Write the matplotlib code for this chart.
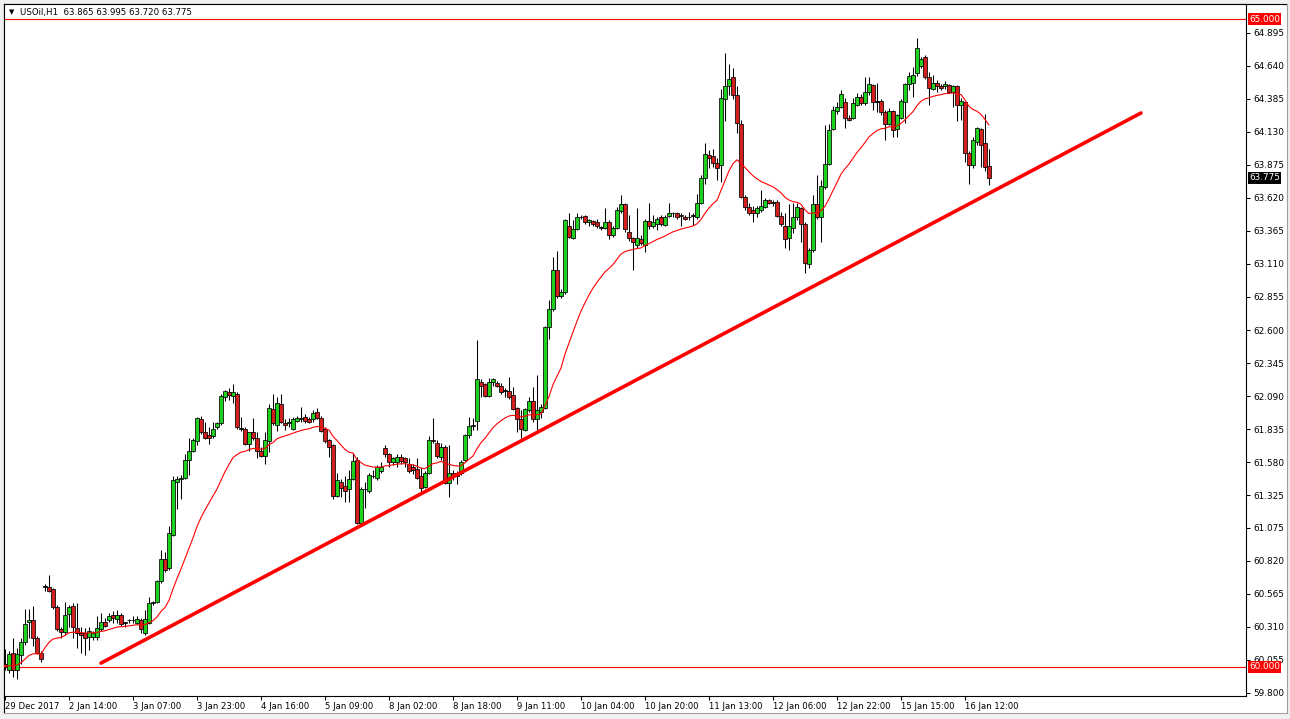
import matplotlib
matplotlib.use("Agg")
import matplotlib.pyplot as plt
from matplotlib.lines import Line2D
from matplotlib.patches import Rectangle
import matplotlib.transforms as mtransforms
import pandas as pd

# USOil H1 bars (prices)
opens = [
    60.02, 59.98, 60.11, 59.98, 60.09, 60.19, 60.35, 60.36, 60.22, 60.11,
    60.62, 60.62, 60.60, 60.46, 60.29, 60.27, 60.41, 60.47, 60.30, 60.26,
    60.26, 60.23, 60.23, 60.23, 60.29, 60.35, 60.36, 60.40, 60.37, 60.40,
    60.34, 60.36, 60.36, 60.34, 60.36, 60.26, 60.34, 60.49, 60.50, 60.66,
    60.83, 60.76, 61.02, 61.43, 61.45, 61.46, 61.60, 61.67, 61.74, 61.91,
    61.81, 61.79, 61.78, 61.85, 61.88, 62.08, 62.12, 62.09, 62.11, 61.84,
    61.84, 61.72, 61.81, 61.77, 61.67, 61.63, 61.74, 61.99, 61.87, 62.03,
    61.88, 61.88, 61.84, 61.90, 61.91, 61.93, 61.91, 61.91, 61.97, 61.92,
    61.84, 61.75, 61.71, 61.32, 61.43, 61.40, 61.37, 61.45, 61.60, 61.11,
    61.37, 61.36, 61.47, 61.46, 61.51, 61.69, 61.64, 61.58, 61.58, 61.62,
    61.61, 61.57, 61.54, 61.53, 61.47, 61.39, 61.50, 61.75, 61.73, 61.62,
    61.70, 61.42, 61.50, 61.47, 61.50, 61.60, 61.79, 61.86, 61.90, 62.20,
    62.18, 62.09, 62.20, 62.19, 62.17, 62.13, 62.13, 62.10, 62.00, 61.91,
    61.83, 61.98, 62.05, 61.91, 61.97, 62.00, 62.62, 62.76, 63.06, 62.86,
    62.89, 63.40, 63.31, 63.38, 63.47, 63.48, 63.43, 63.44, 63.43, 63.39,
    63.39, 63.43, 63.33, 63.39, 63.52, 63.57, 63.36, 63.31, 63.26, 63.30,
    63.26, 63.44, 63.40, 63.42, 63.47, 63.41, 63.48, 63.50, 63.50, 63.49,
    63.47, 63.47, 63.48, 63.47, 63.58, 63.77, 63.95, 63.94, 63.89, 63.87,
    64.38, 64.48, 64.55, 64.41, 64.19, 63.63, 63.55, 63.53, 63.50, 63.53,
    63.55, 63.60, 63.59, 63.59, 63.48, 63.40, 63.31, 63.39, 63.47, 63.54,
    63.42, 63.11, 63.22, 63.57, 63.47, 63.70, 63.88, 64.15, 64.29, 64.32,
    64.36, 64.24, 64.24, 64.34, 64.40, 64.35, 64.44, 64.49, 64.36, 64.37,
    64.28, 64.19, 64.29, 64.15, 64.24, 64.36, 64.50, 64.51, 64.58, 64.64,
    64.71, 64.55, 64.46, 64.51, 64.48, 64.48, 64.49, 64.44, 64.48, 64.34,
    64.36, 63.97, 63.87, 64.05, 64.15, 64.04, 63.865,
]
highs = [
    60.14, 60.12, 60.22, 60.15, 60.22, 60.45, 60.45, 60.47, 60.24, 60.12,
    60.64, 60.71, 60.61, 60.48, 60.31, 60.50, 60.48, 60.49, 60.49, 60.31,
    60.30, 60.31, 60.28, 60.39, 60.42, 60.38, 60.42, 60.43, 60.44, 60.42,
    60.35, 60.37, 60.39, 60.39, 60.38, 60.44, 60.54, 60.51, 60.67, 60.90,
    60.89, 61.09, 61.47, 61.47, 61.48, 61.64, 61.77, 61.77, 61.93, 61.94,
    61.89, 61.85, 61.89, 61.89, 62.11, 62.14, 62.15, 62.18, 62.12, 61.93,
    61.85, 61.81, 61.92, 61.81, 61.70, 61.81, 62.03, 62.11, 62.08, 62.11,
    61.91, 61.92, 61.93, 61.94, 62.01, 61.95, 61.93, 61.98, 62.00, 61.94,
    61.85, 61.76, 61.72, 61.50, 61.45, 61.47, 61.52, 61.65, 61.62, 61.39,
    61.43, 61.50, 61.52, 61.56, 61.58, 61.71, 61.65, 61.62, 61.64, 61.64,
    61.62, 61.61, 61.57, 61.61, 61.54, 61.51, 61.78, 61.92, 61.75, 61.73,
    61.71, 61.71, 61.52, 61.51, 61.60, 61.80, 61.93, 61.92, 62.52, 62.22,
    62.19, 62.23, 62.23, 62.21, 62.19, 62.15, 62.24, 62.16, 62.01, 61.98,
    62.00, 62.08, 62.16, 62.25, 62.03, 62.63, 62.83, 63.16, 63.21, 62.92,
    63.46, 63.50, 63.45, 63.50, 63.49, 63.49, 63.46, 63.45, 63.46, 63.40,
    63.54, 63.45, 63.40, 63.55, 63.64, 63.58, 63.49, 63.32, 63.54, 63.33,
    63.46, 63.58, 63.49, 63.47, 63.49, 63.49, 63.58, 63.51, 63.51, 63.50,
    63.49, 63.51, 63.50, 63.65, 63.80, 64.04, 63.99, 64.00, 63.93, 64.46,
    64.74, 64.65, 64.62, 64.48, 64.22, 63.64, 63.58, 63.56, 63.56, 63.68,
    63.62, 63.61, 63.60, 63.60, 63.51, 63.50, 63.57, 63.58, 63.58, 63.55,
    63.43, 63.23, 63.64, 63.80, 63.76, 64.18, 64.19, 64.33, 64.36, 64.45,
    64.39, 64.26, 64.39, 64.43, 64.42, 64.55, 64.55, 64.50, 64.51, 64.38,
    64.30, 64.31, 64.30, 64.27, 64.38, 64.51, 64.59, 64.63, 64.85, 64.71,
    64.72, 64.59, 64.57, 64.53, 64.50, 64.52, 64.50, 64.49, 64.49, 64.39,
    64.37, 63.98, 64.09, 64.17, 64.16, 64.27, 63.995,
]
lows = [
    59.98, 59.95, 59.92, 59.91, 60.02, 60.17, 60.22, 60.16, 60.10, 60.04,
    60.59, 60.58, 60.45, 60.28, 60.22, 60.25, 60.31, 60.22, 60.15, 60.11,
    60.09, 60.13, 60.21, 60.21, 60.28, 60.31, 60.35, 60.34, 60.34, 60.32,
    60.31, 60.34, 60.34, 60.33, 60.26, 60.25, 60.33, 60.48, 60.49, 60.65,
    60.73, 60.75, 61.01, 61.22, 61.30, 61.45, 61.48, 61.66, 61.71, 61.80,
    61.76, 61.72, 61.77, 61.84, 61.87, 62.05, 62.06, 62.04, 61.84, 61.82,
    61.71, 61.67, 61.75, 61.61, 61.62, 61.57, 61.66, 61.87, 61.82, 61.88,
    61.83, 61.85, 61.83, 61.89, 61.89, 61.88, 61.88, 61.89, 61.91, 61.81,
    61.73, 61.62, 61.30, 61.31, 61.31, 61.27, 61.27, 61.44, 61.10, 61.10,
    61.23, 61.34, 61.46, 61.44, 61.50, 61.62, 61.54, 61.56, 61.54, 61.57,
    61.54, 61.50, 61.49, 61.45, 61.35, 61.38, 61.49, 61.73, 61.61, 61.60,
    61.41, 61.31, 61.44, 61.41, 61.48, 61.59, 61.77, 61.83, 61.83, 62.08,
    62.08, 62.08, 62.17, 62.16, 62.11, 62.08, 62.07, 61.98, 61.81, 61.77,
    61.82, 61.97, 61.89, 61.83, 61.92, 61.99, 62.53, 62.75, 62.85, 62.85,
    62.88, 63.31, 63.30, 63.37, 63.46, 63.42, 63.40, 63.40, 63.39, 63.37,
    63.38, 63.30, 63.32, 63.38, 63.50, 63.36, 63.29, 63.06, 63.23, 63.26,
    63.20, 63.38, 63.39, 63.37, 63.40, 63.40, 63.47, 63.47, 63.46, 63.40,
    63.45, 63.45, 63.41, 63.46, 63.57, 63.73, 63.85, 63.86, 63.76, 63.74,
    64.21, 64.41, 64.38, 64.12, 63.62, 63.53, 63.49, 63.43, 63.47, 63.51,
    63.54, 63.57, 63.56, 63.47, 63.40, 63.23, 63.22, 63.35, 63.45, 63.28,
    63.04, 63.08, 63.20, 63.46, 63.28, 63.69, 63.87, 64.14, 64.27, 64.31,
    64.16, 64.21, 64.23, 64.33, 64.34, 64.34, 64.41, 64.30, 64.28, 64.26,
    64.07, 64.18, 64.09, 64.09, 64.23, 64.20, 64.45, 64.40, 64.56, 64.62,
    64.54, 64.34, 64.45, 64.44, 64.45, 64.46, 64.43, 64.32, 64.21, 64.22,
    63.90, 63.73, 63.85, 64.03, 63.86, 63.83, 63.720,
]
closes = [
    60.00, 60.10, 59.98, 60.10, 60.19, 60.33, 60.36, 60.22, 60.11, 60.06,
    60.62, 60.59, 60.46, 60.29, 60.27, 60.40, 60.46, 60.31, 60.26, 60.25,
    60.22, 60.28, 60.26, 60.30, 60.35, 60.32, 60.39, 60.38, 60.40, 60.33,
    60.34, 60.36, 60.36, 60.37, 60.29, 60.37, 60.49, 60.50, 60.66, 60.83,
    60.75, 61.03, 61.44, 61.45, 61.46, 61.60, 61.67, 61.75, 61.92, 61.81,
    61.77, 61.77, 61.84, 61.88, 62.09, 62.13, 62.10, 62.12, 61.85, 61.84,
    61.72, 61.81, 61.77, 61.67, 61.63, 61.75, 62.00, 61.88, 62.04, 61.89,
    61.87, 61.89, 61.91, 61.92, 61.92, 61.90, 61.89, 61.96, 61.92, 61.82,
    61.74, 61.70, 61.32, 61.44, 61.38, 61.36, 61.45, 61.59, 61.11, 61.37,
    61.37, 61.48, 61.47, 61.54, 61.54, 61.64, 61.58, 61.61, 61.62, 61.59,
    61.58, 61.51, 61.52, 61.46, 61.38, 61.50, 61.75, 61.74, 61.63, 61.70,
    61.42, 61.50, 61.47, 61.50, 61.58, 61.79, 61.86, 61.87, 62.22, 62.17,
    62.09, 62.20, 62.22, 62.17, 62.12, 62.13, 62.08, 61.99, 61.91, 61.84,
    61.99, 62.05, 61.91, 61.98, 62.01, 62.62, 62.76, 63.06, 62.86, 62.89,
    63.45, 63.32, 63.38, 63.47, 63.47, 63.43, 63.45, 63.42, 63.40, 63.39,
    63.43, 63.33, 63.39, 63.53, 63.57, 63.38, 63.31, 63.28, 63.31, 63.27,
    63.44, 63.40, 63.43, 63.46, 63.42, 63.47, 63.50, 63.50, 63.47, 63.48,
    63.46, 63.47, 63.48, 63.58, 63.77, 63.96, 63.93, 63.89, 63.85, 64.39,
    64.48, 64.54, 64.41, 64.20, 63.63, 63.55, 63.50, 63.50, 63.54, 63.56,
    63.60, 63.58, 63.58, 63.48, 63.42, 63.30, 63.40, 63.47, 63.55, 63.42,
    63.12, 63.22, 63.57, 63.47, 63.71, 63.88, 64.14, 64.30, 64.32, 64.42,
    64.24, 64.22, 64.35, 64.40, 64.35, 64.44, 64.50, 64.36, 64.36, 64.28,
    64.19, 64.29, 64.14, 64.26, 64.37, 64.50, 64.56, 64.57, 64.78, 64.69,
    64.55, 64.47, 64.51, 64.48, 64.47, 64.50, 64.44, 64.48, 64.34, 64.37,
    63.97, 63.87, 64.07, 64.16, 64.03, 63.86, 63.775,
]

# time axis labels (one every 16 bars)
time_labels = [
    "29 Dec 2017", "2 Jan 14:00", "3 Jan 07:00", "3 Jan 23:00", "4 Jan 16:00",
    "5 Jan 09:00", "8 Jan 02:00", "8 Jan 18:00", "9 Jan 11:00", "10 Jan 04:00",
    "10 Jan 20:00", "11 Jan 13:00", "12 Jan 06:00", "12 Jan 22:00",
    "15 Jan 15:00", "16 Jan 12:00",
]
label_step = 16

price_ticks = [64.895, 64.640, 64.385, 64.130, 63.875, 63.620, 63.365, 63.110,
               62.855, 62.600, 62.345, 62.090, 61.835, 61.580, 61.325, 61.075,
               60.820, 60.565, 60.310, 60.055, 59.800]
levels = [65.000, 60.000]
ma_period = 20
trend_bars = [24, 284]
trend_prices = [60.03, 64.275]

W, H = 1290, 719
fig = plt.figure(figsize=(W / 100, H / 100), dpi=100)
fig.patch.set_facecolor("#f0f0f0")
fig.patches.append(Rectangle((4 / W, 1 - 713 / H), 1283 / W, 709 / H,
                             transform=fig.transFigure, facecolor="white",
                             edgecolor="none", zorder=-10))
fig.lines.append(Line2D([4 / W, 1287 / W], [1 - 4 / H, 1 - 4 / H],
                        transform=fig.transFigure, color="black", lw=0.8,
                        zorder=-5))
fig.lines.append(Line2D([4 / W, 4 / W], [1 - 4 / H, 1 - 713 / H],
                        transform=fig.transFigure, color="black", lw=0.8,
                        zorder=-5))
fig.lines.append(Line2D([4 / W, 1287 / W], [1 - 713 / H, 1 - 713 / H],
                        transform=fig.transFigure, color="#a0a0a0", lw=0.8,
                        zorder=-5))
fig.lines.append(Line2D([1287 / W, 1287 / W], [1 - 4 / H, 1 - 713 / H],
                        transform=fig.transFigure, color="#a0a0a0", lw=0.8,
                        zorder=-5))

ax = fig.add_axes([4 / W, 1 - 696 / H, 1242 / W, 692 / H])
ax.set_zorder(2)
ax.set_facecolor("white")

n = len(closes)
xs = list(range(n))

# wicks
ax.vlines(xs, lows, highs, color="black", lw=0.75, zorder=3)

# bodies
up = "#1fd01f"
down = "#d41f1f"
for i in xs:
    o, c = opens[i], closes[i]
    if c > o:
        fc = up
    elif c < o:
        fc = down
    else:
        fc = "black"
    ax.bar(i, max(abs(c - o), 0.004), bottom=min(o, c), width=0.82,
           color=fc, edgecolor="black", linewidth=0.55, zorder=4)

# moving average of the closes
ma = pd.Series(closes).ewm(span=ma_period, adjust=False).mean()
ax.plot(xs, ma, color="red", lw=0.8, zorder=5)

# horizontal levels and trend line
for lv in levels:
    ax.axhline(lv, color="red", lw=0.8, zorder=2)
ax.plot(trend_bars, trend_prices, color="#ff0000", lw=2.6, zorder=6,
        solid_capstyle="round")

ax.set_xlim(-0.25, 310.25)
ax.set_ylim(59.776, 65.116)

ax.yaxis.tick_right()
ax.set_yticks(price_ticks)
ax.set_yticklabels([f"{p:.3f}" for p in price_ticks])
ax.tick_params(axis="y", direction="out", length=3, width=0.75, pad=2,
               labelsize=6.4, colors="black")

ax.set_xticks([k * label_step for k in range(len(time_labels))])
ax.set_xticklabels(time_labels)
for lbl in ax.get_xticklabels():
    lbl.set_horizontalalignment("left")
ax.tick_params(axis="x", direction="out", length=3, width=0.75, pad=1.5,
               labelsize=6.1, colors="black")

for sp in ax.spines.values():
    sp.set_color("black")
    sp.set_linewidth(0.8)

# price tags on the right axis
trans = mtransforms.blended_transform_factory(ax.transAxes, ax.transData)
for lv in levels:
    ax.text(1.0025, lv, f"{lv:.3f}", transform=trans, fontsize=6.4,
            color="white", va="center", ha="left", clip_on=False, zorder=10,
            bbox=dict(boxstyle="square,pad=0.15", facecolor="red",
                      edgecolor="none"))
ax.text(1.0025, closes[-1], f"{closes[-1]:.3f}", transform=trans,
        fontsize=6.4, color="white", va="center", ha="left", clip_on=False,
        zorder=10, bbox=dict(boxstyle="square,pad=0.15", facecolor="black",
                             edgecolor="none"))

# header
fig.text(9 / W, 1 - 12 / H, "\u25bc", fontsize=5, va="center", ha="left")
fig.text(20 / W, 1 - 12 / H,
         f"USOil,H1  {opens[-1]:.3f} {highs[-1]:.3f} {lows[-1]:.3f} {closes[-1]:.3f}",
         fontsize=6.2, va="center", ha="left")

fig.savefig("out.png", dpi=100, facecolor=fig.get_facecolor())
